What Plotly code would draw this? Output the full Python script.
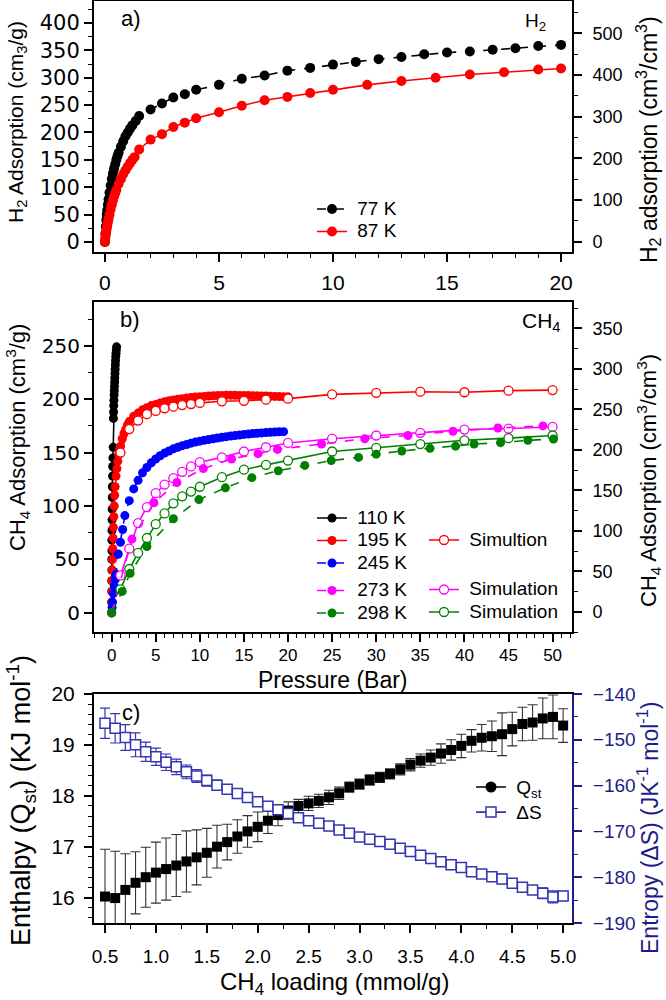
import plotly.graph_objects as go

# ---------------- Panel a: H2 isotherms ----------------
h2_p77 = [0, 0.02, 0.04, 0.06, 0.08, 0.1, 0.13, 0.16, 0.2, 0.25, 0.3, 0.35, 0.4, 0.45, 0.5, 0.55, 0.6, 0.7, 0.8, 0.9, 1.0, 1.1, 1.2, 1.35,
          1.5, 2, 2.5, 3, 3.5, 4, 5, 6, 7, 8, 9, 10, 11, 12, 13, 14, 15, 16, 17, 18, 19, 20]
h2_v77 = [0, 15, 28, 40, 50, 58, 68, 78, 90, 103, 115, 125, 134, 142, 150, 157, 163, 174, 184, 193, 200, 207, 213, 221,
          230, 242, 253, 264, 270, 278, 287, 298, 304, 313, 318, 324, 329, 334, 338, 343, 346, 348, 351, 354, 358, 360]
h2_p87 = [0, 0.01, 0.02, 0.04, 0.06, 0.08, 0.1, 0.13, 0.16, 0.2, 0.25, 0.3, 0.35, 0.4, 0.45, 0.5, 0.6, 0.7, 0.8, 0.9, 1.0, 1.1, 1.2, 1.3,
          1.5, 2, 2.5, 3, 3.5, 4, 5, 6, 7, 8, 9, 10, 11.5, 13, 14.5, 16, 17.5, 19, 20]
h2_v87 = [0, 4, 8, 14, 20, 25, 30, 36, 42, 50, 60, 68, 76, 83, 89, 95, 106, 115, 124, 131, 138, 144, 150, 155,
          169, 187, 197, 210, 218, 226, 237, 249, 259, 265, 272, 278, 287, 294, 300, 306, 310, 315, 317]

# ---------------- Panel b: CH4 isotherms ----------------
p110 = [0.0, 0.0, 0.01, 0.01, 0.02, 0.02, 0.03, 0.03, 0.04, 0.05, 0.06, 0.07, 0.08, 0.1, 0.12, 0.15, 0.18, 0.2, 0.22, 0.24,
        0.26, 0.28, 0.3, 0.32, 0.34, 0.36, 0.38, 0.4, 0.42, 0.44, 0.47, 0.5, 0.53, 0.56]
v110 = [0, 10, 20, 30, 40, 50, 58, 68, 77, 87, 97, 108, 118, 128, 137, 145, 155, 182, 188, 194,
        199, 204, 208, 212, 216, 220, 224, 228, 232, 236, 240, 243, 246, 249]
p195 = [0, 0.02, 0.04, 0.06, 0.08, 0.1, 0.13, 0.16, 0.2, 0.25, 0.3, 0.35, 0.4, 0.5, 0.6, 0.7, 0.8, 0.9, 1.0, 1.2, 1.4, 1.6, 1.8, 2.0,
        2.5, 3, 3.5, 4, 4.5, 5, 5.5, 6, 6.5, 7, 7.5, 8, 8.5, 9, 9.5, 10, 10.5, 11, 11.5, 12, 12.5, 13, 13.5, 14, 14.5, 15,
        15.5, 16, 16.5, 17, 17.5, 18, 18.5, 19, 19.5, 20]
v195 = [0, 10, 20, 30, 40, 50, 60, 70, 80, 90, 100, 110, 118, 128, 135, 142, 148, 152, 156, 163, 168, 172, 176, 179,
        184, 187, 190, 192, 194, 195, 196.5, 197.5, 198.5, 199.2, 200, 200.5, 201, 201.5, 202, 202.3, 202.6, 203, 203.2, 203.4,
        203.5, 203.6, 203.6, 203.6, 203.5, 203.5, 203.4, 203.3, 203.2, 203, 202.9, 202.8, 202.6, 202.5, 202.3, 202.2]
p245 = [0, 0.05, 0.1, 0.2, 0.3, 0.4, 0.5, 0.75, 1.0, 1.25, 1.5, 2.0, 2.5, 3.0, 3.5, 4.0, 4.5, 5, 5.5, 6, 6.5, 7, 7.5, 8, 8.5,
        9, 9.5, 10, 10.5, 11, 11.5, 12, 12.5, 13, 13.5, 14, 14.5, 15, 15.5, 16, 16.5, 17, 17.5, 18, 18.5, 19, 19.5]
v245 = [0, 5, 10, 18, 25, 31, 36, 55, 66, 78, 91, 105, 116, 124, 131, 136, 140.5, 144, 147, 149.5, 151.5, 153.5, 155, 156.5,
        157.5, 158.8, 159.8, 160.7, 161.5, 162.3, 163, 163.7, 164.3, 164.9, 165.5, 166, 166.5, 167, 167.4, 167.8, 168.1,
        168.4, 168.7, 169, 169.2, 169.4, 169.6]
p273 = [0, 2.3, 4.8, 7.4, 10.4, 13.6, 16.6, 18.8, 23.8, 28.7, 33.6, 38.7, 43.8, 48.9]
v273 = [0, 69, 103, 122, 135, 144, 149, 153, 158, 163, 166, 170, 173, 175]
p298 = [0, 1.2, 2.1, 4.0, 7.0, 9.9, 12.9, 15.9, 18.9, 21.9, 24.9, 28.0, 30.0, 32.9, 36.1, 39.0, 41.1, 44.1, 47.2, 50.1]
v298 = [0, 20, 37, 62, 88, 106, 117, 126.5, 133, 138, 142.5, 145.5, 148.5, 151.5, 154, 156, 158, 159.3, 161.5, 162.7]

sim_p = [1, 2, 3, 4, 5, 6, 7, 8, 9, 10, 12.5, 15, 17.5, 20, 25, 30, 35, 40, 45, 50]
sim195 = [150, 172, 180, 186, 189, 191.5, 193, 194.5, 195.5, 196.5, 198, 198.5, 199.5, 200.5, 204.5, 206, 207, 206.5, 208, 208.5]
sim273 = [35, 60, 84, 99, 112, 120, 126, 132, 137, 141, 145.5, 151, 155, 159, 163, 166, 168.5, 171.5, 172.5, 174]
sim298 = [22, 41, 56, 70, 83, 93, 102.5, 109, 113.5, 118, 127, 134, 138.5, 142.5, 151, 154.5, 158, 161.5, 163.5, 166]

# ---------------- Panel c: Qst and entropy ----------------
loading = [0.5, 0.6, 0.7, 0.8, 0.9, 1.0, 1.1, 1.2, 1.3, 1.4, 1.5, 1.6, 1.7, 1.8, 1.9, 2.0, 2.1, 2.2, 2.3, 2.4, 2.5, 2.6, 2.7,
           2.8, 2.9, 3.0, 3.1, 3.2, 3.3, 3.4, 3.5, 3.6, 3.7, 3.8, 3.9, 4.0, 4.1, 4.2, 4.3, 4.4, 4.5, 4.6, 4.7, 4.8, 4.9, 5.0]
qst = [16.02, 15.99, 16.15, 16.29, 16.40, 16.49, 16.56, 16.63, 16.71, 16.79, 16.88, 17.00, 17.09, 17.20, 17.30, 17.39,
       17.51, 17.62, 17.71, 17.80, 17.85, 17.90, 17.97, 18.05, 18.17, 18.23, 18.31, 18.36, 18.43, 18.52, 18.61, 18.69,
       18.75, 18.83, 18.90, 18.98, 19.08, 19.14, 19.17, 19.21, 19.31, 19.41, 19.44, 19.52, 19.55, 19.38]
qst_err = [0.93, 0.92, 0.71, 0.61, 0.59, 0.6, 0.61, 0.61, 0.6, 0.54, 0.48, 0.42, 0.35, 0.33, 0.31, 0.29, 0.25, 0.21, 0.17,
           0.13, 0.14, 0.13, 0.14, 0.12, 0.1, 0.1, 0.1, 0.1, 0.1, 0.11, 0.12, 0.13, 0.15, 0.19, 0.2, 0.23, 0.22, 0.26, 0.3,
           0.42, 0.33, 0.33, 0.35, 0.4, 0.43, 0.33]
dS = [-146.4, -147.5, -149.5, -151.1, -152.6, -153.7, -154.9, -155.9, -157.0, -157.9, -158.9, -159.9, -160.8, -161.7,
      -162.6, -163.5, -164.5, -165.3, -166.1, -167.0, -167.7, -168.2, -168.8, -169.7, -170.4, -171.2, -171.7, -172.2,
      -172.8, -173.7, -174.4, -175.2, -175.9, -176.6, -177.3, -177.9, -178.8, -179.3, -179.9, -180.4, -181.3, -182.2,
      -182.8, -183.5, -184.3, -184.1]
dS_err = [3.3, 3.2, 2.8, 2.6, 2.1, 1.9, 1.8, 1.7, 1.5, 1.4, 1.2, 1.1, 1.0, 0.9, 0.8, 0.7, 0.6, 0.6, 0.5, 0.5, 0.5, 0.5, 0.5,
          0.5, 0.6, 0.6, 0.6, 0.6, 0.6, 0.6, 0.6, 0.6, 0.6, 0.6, 0.6, 0.6, 0.6, 0.7, 0.8, 1.0, 0.8, 0.8, 0.9, 1.2, 1.3, 1.0]

# ---------------- styling ----------------
ARIAL = "Liberation Sans, Arial, sans-serif"
WIDE = "DejaVu Sans, sans-serif"
RED, BLUE, MAG, GRN = "#ff0000", "#0000ff", "#ff00ff", "#008000"
NAVY, NAVY2 = "#1c1c8c", "#3535b0"

W, H = 666, 1000
L, R, T, B = 94, 94, 1, 77
PW, PH = W - L - R, H - T - B


def px(xpix):
    return (xpix - L) / PW


def py(ypix):
    return (H - B - ypix) / PH


def lg(text, size=19):
    return '<span style="font-size:%dpx">\u00a0%s</span>' % (size, text)


fig = go.Figure()


def sc(x, y, name, color, xa, ya, legend, dash="solid", size=10, open_=False, show=True, group=None, symbol="circle"):
    mk = dict(size=size, symbol=symbol, color="white" if open_ else color,
              line=dict(color=color, width=1.3 if open_ else 0))
    fig.add_trace(go.Scatter(x=x, y=y, name=lg(name), mode="lines+markers", xaxis=xa, yaxis=ya,
                             line=dict(color=color, width=1.6, dash=dash), marker=mk,
                             legend=legend, showlegend=show, legendgroup=group))


# panel a
sc(h2_p77, h2_v77, "77 K", "black", "x", "y", "legend", dash="dash", group="a1")
sc(h2_p87, h2_v87, "87 K", RED, "x", "y", "legend", group="a1")

# panel b
sc(p110, v110, "110 K", "black", "x2", "y3", "legend2", size=9, group="g1")
sc(p195, v195, "195 K", RED, "x2", "y3", "legend2", size=9, group="g1")
sc(sim_p, sim195, "Simultion", RED, "x2", "y3", "legend3", size=9, open_=True, group="s1")
sc(p245, v245, "245 K", BLUE, "x2", "y3", "legend2", dash="dash", size=9, group="g1")
sc(sim_p, sim273, "Simulation", MAG, "x2", "y3", "legend3", size=9, open_=True, group="s2")
sc(p273, v273, "273 K", MAG, "x2", "y3", "legend2", dash="dash", size=9, group="g2")
sc(sim_p, sim298, "Simulation", GRN, "x2", "y3", "legend3", size=9, open_=True, group="s2")
sc(p298, v298, "298 K", GRN, "x2", "y3", "legend2", dash="dash", size=9, group="g2")

# empty traces so the right-hand (volumetric) axes of panels a and b are drawn
fig.add_trace(go.Scatter(x=[None], y=[None], xaxis="x", yaxis="y2", showlegend=False, hoverinfo="skip"))
fig.add_trace(go.Scatter(x=[None], y=[None], xaxis="x2", yaxis="y4", showlegend=False, hoverinfo="skip"))

# panel c
fig.add_trace(go.Scatter(x=loading, y=dS, mode="lines+markers", xaxis="x3", yaxis="y6", showlegend=False,
                         line=dict(color=NAVY2, width=1),
                         marker=dict(symbol="square", size=10, color="white", line=dict(color=NAVY2, width=1.5)),
                         error_y=dict(type="data", array=dS_err, color=NAVY2, thickness=1.2, width=5)))
fig.add_trace(go.Scatter(x=loading, y=qst, mode="lines+markers", xaxis="x3", yaxis="y5", showlegend=False,
                         line=dict(color="black", width=1),
                         marker=dict(symbol="square", size=10, color="black"),
                         error_y=dict(type="data", array=qst_err, color="#333333", thickness=1.1, width=5)))
# legend handles for panel c
fig.add_trace(go.Scatter(x=[None], y=[None], name=lg("Q<sub>st</sub>"), mode="lines+markers", xaxis="x3", yaxis="y5",
                         line=dict(color="black", width=1.6), marker=dict(symbol="circle", size=11, color="black"),
                         legend="legend4"))
fig.add_trace(go.Scatter(x=[None], y=[None], name=lg("\u0394S"), mode="lines+markers", xaxis="x3", yaxis="y6",
                         line=dict(color=NAVY2, width=1.6),
                         marker=dict(symbol="square", size=10, color="white", line=dict(color=NAVY2, width=1.5)),
                         legend="legend4"))


def axis(domain=None, rng=None, dtick=None, mdtick=None, fs=19, fam=ARIAL, color="black", standoff=0, **kw):
    d = dict(range=rng, dtick=dtick, tick0=0, ticks="outside", ticklen=8, tickwidth=1.5, tickcolor=color,
             linecolor=color, linewidth=2, showline=True, showgrid=False, zeroline=False, automargin=False,
             tickfont=dict(family=fam, size=fs, color=color), ticklabelstandoff=standoff,
             minor=dict(dtick=mdtick, tick0=0, ticks="outside", ticklen=4, tickwidth=1.2, tickcolor=color),
             fixedrange=True)
    if domain is not None:
        d["domain"] = domain
    d.update(kw)
    return d


def legend_at(x, yc, fs):
    # yc: pixel centre of the first legend row
    top = yc - 5 - (fs * 1.3 + 3) / 2
    return dict(x=px(x), y=py(top), xanchor="left", yanchor="top", bgcolor="rgba(0,0,0,0)",
                font=dict(family=ARIAL, size=fs, color="black"), itemclick=False, itemdoubleclick=False)


fig.update_layout(
    width=W, height=H, margin=dict(l=L, r=R, t=T, b=B, autoexpand=False),
    paper_bgcolor="white", plot_bgcolor="white", font=dict(family=ARIAL, color="black"),
    # panel a
    xaxis=axis(domain=[0, 1], rng=[-0.48, 20.48], dtick=5, mdtick=1, fs=21, anchor="y", mirror=True, standoff=3),
    yaxis=axis(domain=[py(252), 1], rng=[-18.3, 440.2], dtick=50, mdtick=25, fs=21, fam=WIDE, anchor="x"),
    yaxis2=axis(rng=[-25, 578], dtick=100, mdtick=50, fs=18, anchor="x", overlaying="y", side="right", standoff=7),
    # panel b
    xaxis2=axis(domain=[0, 1], rng=[-2.0, 52.2], dtick=5, mdtick=1, fs=17, anchor="y3", mirror=True, standoff=-1),
    yaxis3=axis(domain=[py(632), py(302)], rng=[-18, 291], dtick=50, mdtick=25, fs=20, fam=WIDE, anchor="x2", standoff=0),
    yaxis4=axis(rng=[-25, 382.5], dtick=50, mdtick=25, fs=18, anchor="x2", overlaying="y3", side="right", standoff=7),
    # panel c
    xaxis3=axis(domain=[0, 1], rng=[0.392, 5.087], dtick=0.5, mdtick=0.25, fs=19, anchor="y5", mirror=True,
                tick0=0.5, tickformat=".1f", standoff=7),
    yaxis5=axis(domain=[0, py(694)], rng=[15.5, 20], dtick=1, mdtick=0.2, fs=21, anchor="x3", standoff=5),
    yaxis6=axis(rng=[-190, -140], dtick=10, mdtick=5, fs=19, color=NAVY, anchor="x3", overlaying="y5", side="right",
                standoff=7),
    legend=dict(legend_at(312, 209, 15), tracegroupgap=0),
    legend2=dict(legend_at(312, 518, 15), tracegroupgap=5),
    legend3=dict(legend_at(424, 540, 15), tracegroupgap=27),
    legend4=dict(legend_at(471, 787, 17), tracegroupgap=0),
)
fig.update_layout(xaxis3_minor_tick0=0.5)

ann = [
    ("a)", 131, 19, 22, 0, "black"),
    ("H<sub>2</sub>", 535, 22, 19, 0, "black"),
    ("b)", 130, 319, 22, 0, "black"),
    ("CH<sub>4</sub>", 541, 322, 21, 0, "black"),
    ("c)", 131, 712, 22, 0, "black"),
    ("H<sub>2</sub> Adsorption (cm<sub>3</sub>/g)", 17, 122, 21, -90, "black"),
    ("H<sub>2</sub> adsorption (cm<sup>3</sup>/cm<sup>3</sup>)", 648, 140, 23, -90, "black"),
    ("CH<sub>4</sub> Adsorption (cm<sup>3</sup>/g)", 17, 438, 22, -90, "black"),
    ("CH<sub>4</sub> Adsorption (cm<sup>3</sup>/cm<sup>3</sup>)", 648, 481, 22, -90, "black"),
    ("Pressure (Bar)", 333, 680, 23, 0, "black"),
    ("Enthalpy (Q<sub>st</sub>) (KJ mol<sup>-1</sup>)", 21, 801, 27, -90, "black"),
    ("Entropy (\u0394S) (JK<sup>-1</sup> mol<sup>-1</sup>)", 648, 828, 23, -90, NAVY),
    ("CH<sub>4</sub> loading (mmol/g)", 334, 984, 24, 0, "black"),
]
for text, x, y, s, ang, col in ann:
    fig.add_annotation(text=text, x=px(x), y=py(y), xref="paper", yref="paper", showarrow=False,
                       xanchor="center", yanchor="middle", textangle=ang,
                       font=dict(family=ARIAL, size=s, color=col))

fig.write_html("out.html", config={"displayModeBar": False},
               post_script="document.body.style.margin='0';document.body.style.overflow='hidden';")
